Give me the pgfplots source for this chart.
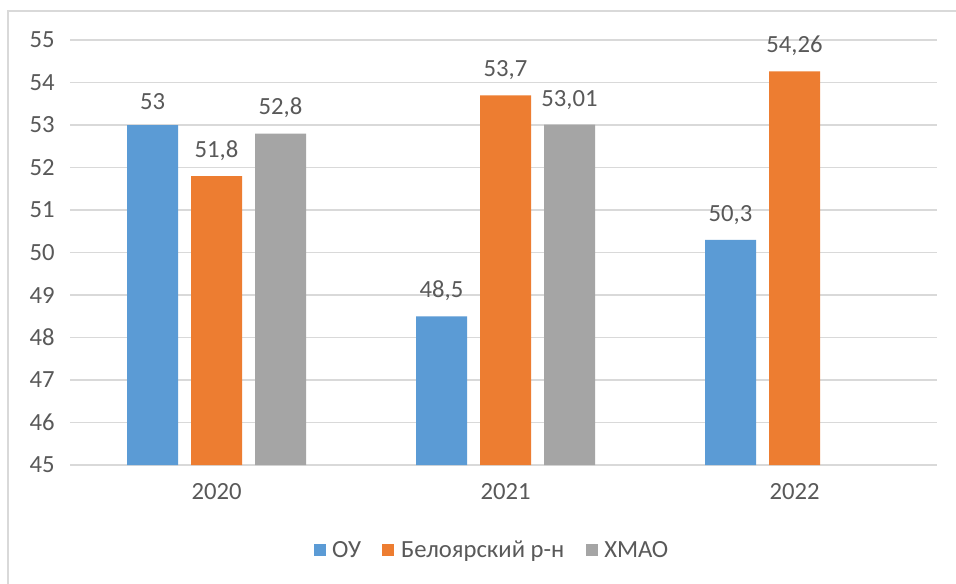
\documentclass[border=0pt]{standalone}
\usepackage{fontspec}
\setmainfont{Carlito}
\usepackage{pgfplots}
\pgfplotsset{compat=1.18}
\definecolor{cblue}{HTML}{5B9BD5}
\definecolor{corange}{HTML}{ED7D31}
\definecolor{cgray}{HTML}{A5A5A5}
\definecolor{ctext}{HTML}{595959}
\definecolor{cgrid}{HTML}{D9D9D9}
\begin{document}
\begin{tikzpicture}
\clip (0,0) rectangle (717pt,437.25pt);
\useasboundingbox (0,0) rectangle (717pt,437.25pt);
\fill[white] (0,0) rectangle (717pt,437.25pt);
\draw[cgrid, line width=1.2pt] (6pt,-20pt) rectangle (740pt,429pt);
\begin{axis}[
  at={(52.5pt,88.5pt)}, anchor=south west,
  scale only axis, width=650.25pt, height=318.75pt,
  xmin=-0.507, xmax=2.493, ymin=45, ymax=55,
  ybar, bar width=38.25pt,
  xtick={0,1,2}, xticklabels={2020,2021,2022},
  ytick={45,46,...,55},
  axis line style={draw=none},
  x axis line style={draw=none},
  major tick length=0pt,
  ymajorgrids, grid style={cgrid, line width=1.2pt},
  font=\fontsize{18.5}{22}\selectfont,
  /pgf/number format/assume math mode=true,
  tick label style={text=ctext},
  yticklabel style={xshift=-8pt},
  xticklabel style={yshift=-10pt},
  nodes near coords, point meta=explicit symbolic,
  every node near coord/.append style={text=ctext, yshift=8pt},
  legend style={at={(0.487,-0.2)}, anchor=center, draw=none, fill=none,
    legend columns=-1, text=ctext, font=\fontsize{18.5}{22}\selectfont,
    /tikz/every odd column/.append style={column sep=3pt},
    /tikz/every even column/.append style={column sep=14pt}},
  clip=false,
]
\addplot[fill=cblue, draw=none, bar shift=-48pt,
  legend image code/.code={\fill[cblue] (0pt,-4.5pt) rectangle (9pt,4.5pt);}]
  coordinates {(0,53) [53] (1,48.5) [{48,5}] (2,50.3) [{50,3}]};
\addplot[fill=corange, draw=none, bar shift=0pt,
  legend image code/.code={\fill[corange] (0pt,-4.5pt) rectangle (9pt,4.5pt);}]
  coordinates {(0,51.8) [{51,8}] (1,53.7) [{53,7}] (2,54.26) [{54,26}]};
\addplot[fill=cgray, draw=none, bar shift=48pt,
  legend image code/.code={\fill[cgray] (0pt,-4.5pt) rectangle (9pt,4.5pt);}]
  coordinates {(0,52.8) [{52,8}] (1,53.01) [{53,01}]};
\legend{ОУ,Белоярский р-н,ХМАО}
\end{axis}
\end{tikzpicture}
\end{document}
